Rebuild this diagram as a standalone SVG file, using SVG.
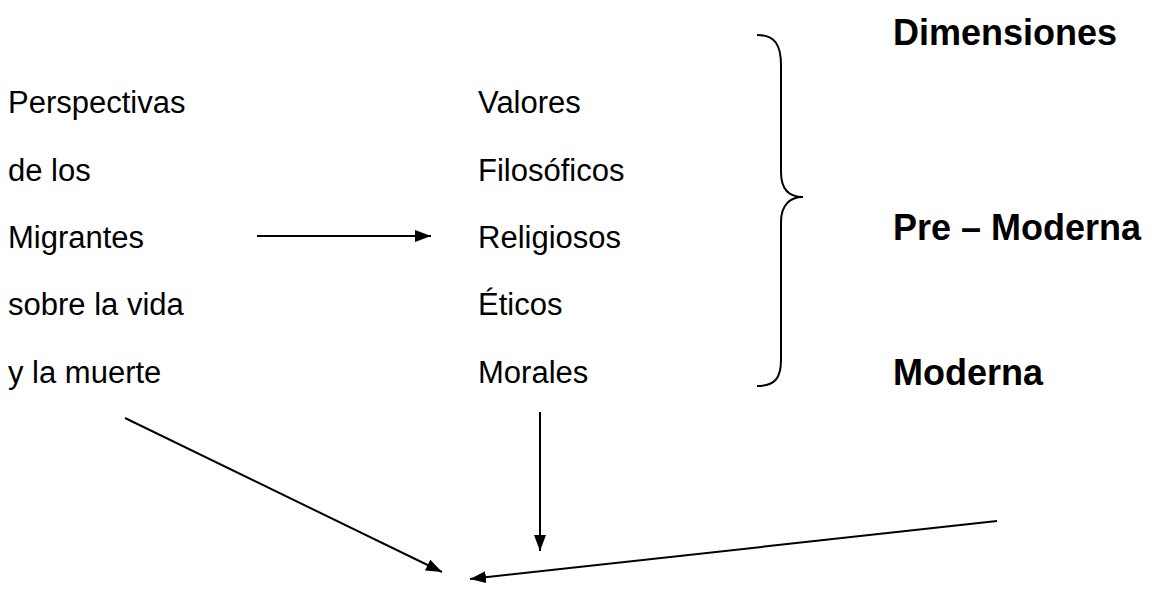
<svg xmlns="http://www.w3.org/2000/svg" width="1154" height="612" viewBox="0 0 1154 612">
<style>
.t{font-family:"Liberation Sans",Arial,sans-serif;font-size:31px;fill:#000}
.b{font-family:"Liberation Sans",Arial,sans-serif;font-size:36px;font-weight:bold;fill:#000}
.c{stroke:#000;stroke-width:2;fill:none}
</style>
<defs>
<marker id="ah" viewBox="0 0 16 12" refX="16" refY="6" markerWidth="16" markerHeight="12" markerUnits="userSpaceOnUse" orient="auto">
<path d="M0,0 L16,6 L0,12 z" fill="#000"/>
</marker>
</defs>
<rect width="1154" height="612" fill="#fff"/>
<g id="perspectivas">
<text class="t" x="8" y="113">Perspectivas</text>
<text class="t" x="8" y="181">de los</text>
<text class="t" x="8" y="248">Migrantes</text>
<text class="t" x="8" y="315">sobre la vida</text>
<text class="t" x="8" y="383">y la muerte</text>
</g>
<g id="valores">
<text class="t" x="478" y="113">Valores</text>
<text class="t" x="478" y="181">Filosóficos</text>
<text class="t" x="478" y="248">Religiosos</text>
<text class="t" x="478" y="315">Éticos</text>
<text class="t" x="478" y="383">Morales</text>
</g>
<g id="dimensiones">
<text class="b" x="893" y="45">Dimensiones</text>
<text class="b" x="893" y="240">Pre – Moderna</text>
<text class="b" x="893" y="385">Moderna</text>
</g>
<g id="brace">
<path class="c" d="M757,35 C775,35 781,45 781,65 L781,172 C781,190 790,197 803,197 C790,197 781,205 781,222 L781,360 C781,378 775,386 757,386"/>
</g>
<g id="connectors">
<line class="c" x1="257" y1="236" x2="431" y2="236" marker-end="url(#ah)"/>
<line class="c" x1="125" y1="418" x2="442" y2="572" marker-end="url(#ah)"/>
<line class="c" x1="540" y1="412" x2="540" y2="551" marker-end="url(#ah)"/>
<line class="c" x1="997" y1="521" x2="470" y2="579" marker-end="url(#ah)"/>
</g>
</svg>
